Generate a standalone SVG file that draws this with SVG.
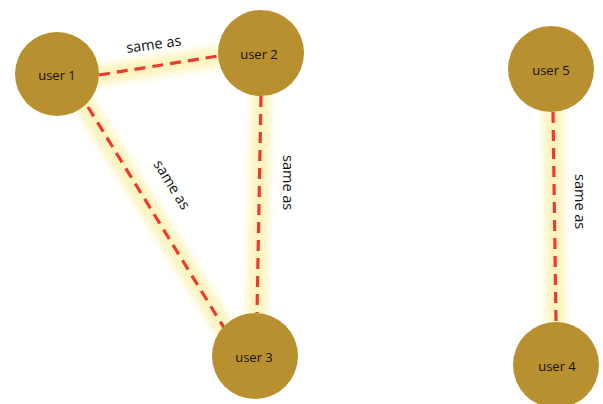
<svg xmlns="http://www.w3.org/2000/svg" width="603" height="404" viewBox="0 0 603 404">
<style>
.glow{stroke:#FCF4C0;stroke-width:20;fill:none;filter:url(#blur);stroke-linecap:round}
.dash{stroke:#EE3A2E;stroke-width:3.2;stroke-dasharray:11 7;fill:none}
.node{fill:#B8902F}
.lbl{font-family:"Open Sans","Liberation Sans",sans-serif;font-size:14.5px;fill:#111}
.ntext{font-family:"Open Sans","Liberation Sans",sans-serif;font-size:13px;fill:#15120a;text-anchor:middle;dominant-baseline:central}
</style>
<defs>
<filter id="blur" filterUnits="userSpaceOnUse" x="0" y="0" width="603" height="404"><feGaussianBlur stdDeviation="3.5"/></filter>
</defs>
<rect width="603" height="404" fill="#fff"/>
<g id="connectors">
<path class="glow" d="M96 76 L220 56"/>
<path class="glow" d="M84 104 L228 334"/>
<path class="glow" d="M261 94 L257 314"/>
<path class="glow" d="M553 110 L556 322"/>
<path class="dash" d="M99 75 L218 56"/>
<path class="dash" d="M88 107 L226 331"/>
<path class="dash" d="M261 96 L257 313"/>
<path class="dash" d="M553 112 L556 322"/>
<text class="lbl" transform="translate(127 53) rotate(-8)">same as</text>
<text class="lbl" transform="translate(153 164) rotate(58)">same as</text>
<text class="lbl" transform="translate(283 155) rotate(90)">same as</text>
<text class="lbl" transform="translate(575 174) rotate(90)">same as</text>
</g>
<g id="user1"><circle class="node" cx="57" cy="74" r="42"/><text class="ntext" x="57" y="75">user 1</text></g>
<g id="user2"><circle class="node" cx="261" cy="53" r="43"/><text class="ntext" x="259" y="54">user 2</text></g>
<g id="user3"><circle class="node" cx="255" cy="356" r="43"/><text class="ntext" x="254" y="357">user 3</text></g>
<g id="user5"><circle class="node" cx="551" cy="69" r="43"/><text class="ntext" x="551" y="70">user 5</text></g>
<g id="user4"><circle class="node" cx="556" cy="365" r="43"/><text class="ntext" x="557" y="366">user 4</text></g>
</svg>
